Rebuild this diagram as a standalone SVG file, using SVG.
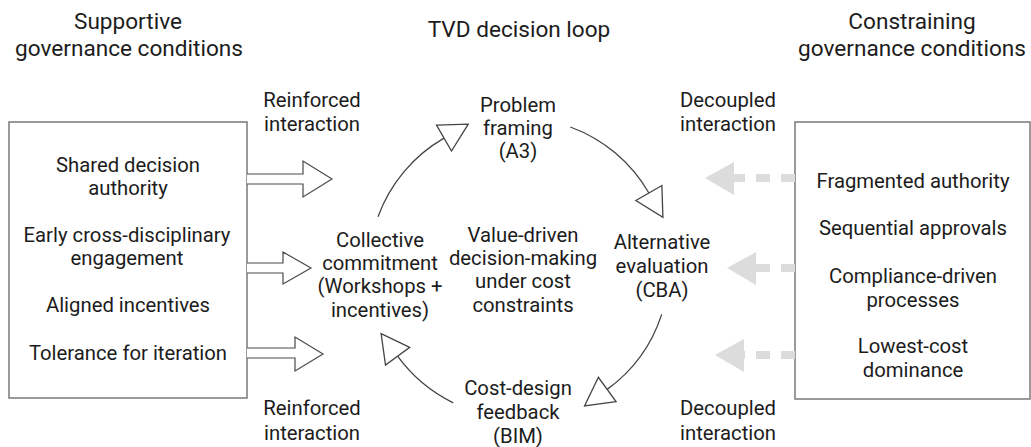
<svg xmlns="http://www.w3.org/2000/svg" width="1031" height="447" viewBox="0 0 1031 447">
  <style>
    text { font-family: Roboto, "Liberation Sans", sans-serif; fill: #1c1c1c; text-anchor: middle; }
    .title { font-size: 22.6px; }
    .lbl { font-size: 20.3px; }
    .box { fill: #ffffff; stroke: #7a7a7a; stroke-width: 1.5; }
    .block { fill: #ffffff; stroke: #4a4a4a; stroke-width: 1.2; stroke-linejoin: miter; }
    .loop { fill: none; stroke: #444444; stroke-width: 1.3; marker-end: url(#hollow); }
    .dash { stroke: #dcdcdc; stroke-width: 8; stroke-dasharray: 14 11; fill: none; }
    .dhead { fill: #dcdcdc; }
  </style>
  <defs>
    <marker id="hollow" viewBox="-2 -2 34 34" refX="0" refY="15" markerWidth="34" markerHeight="34" markerUnits="userSpaceOnUse" orient="auto">
      <path d="M0,0 L28,15 L0,30 Z" fill="#ffffff" stroke="#444444" stroke-width="1.3"/>
    </marker>
  </defs>
  <rect width="1031" height="447" fill="#ffffff"/>

  <!-- column headings -->
  <g id="heading-supportive">
    <text class="title" x="128" y="29">Supportive</text>
    <text class="title" x="129" y="56">governance conditions</text>
  </g>
  <g id="heading-loop">
    <text class="title" x="519" y="37">TVD decision loop</text>
  </g>
  <g id="heading-constraining">
    <text class="title" x="912" y="29">Constraining</text>
    <text class="title" x="912" y="56">governance conditions</text>
  </g>

  <!-- supportive conditions box -->
  <g id="supportive-box">
    <rect class="box" x="9" y="122" width="238" height="276"/>
    <text class="lbl" x="128" y="172">Shared decision</text>
    <text class="lbl" x="128" y="195">authority</text>
    <text class="lbl" x="127" y="242">Early cross-disciplinary</text>
    <text class="lbl" x="127" y="265">engagement</text>
    <text class="lbl" x="128" y="312">Aligned incentives</text>
    <text class="lbl" x="128" y="360">Tolerance for iteration</text>
  </g>

  <!-- constraining conditions box -->
  <g id="constraining-box">
    <rect class="box" x="795" y="122" width="235" height="277"/>
    <text class="lbl" x="913" y="188">Fragmented authority</text>
    <text class="lbl" x="913" y="235">Sequential approvals</text>
    <text class="lbl" x="913" y="283">Compliance-driven</text>
    <text class="lbl" x="913" y="307">processes</text>
    <text class="lbl" x="913" y="353">Lowest-cost</text>
    <text class="lbl" x="913" y="377">dominance</text>
  </g>

  <!-- loop stages -->
  <g id="problem-framing">
    <text class="lbl" x="518" y="112">Problem</text>
    <text class="lbl" x="518" y="135">framing</text>
    <text class="lbl" x="518" y="158">(A3)</text>
  </g>
  <g id="alternative-evaluation">
    <text class="lbl" x="662" y="249">Alternative</text>
    <text class="lbl" x="662" y="273">evaluation</text>
    <text class="lbl" x="662" y="297">(CBA)</text>
  </g>
  <g id="cost-design-feedback">
    <text class="lbl" x="518" y="395">Cost-design</text>
    <text class="lbl" x="518" y="419">feedback</text>
    <text class="lbl" x="518" y="443">(BIM)</text>
  </g>
  <g id="collective-commitment">
    <text class="lbl" x="380" y="247">Collective</text>
    <text class="lbl" x="380" y="270">commitment</text>
    <text class="lbl" x="380" y="293">(Workshops +</text>
    <text class="lbl" x="380" y="317">incentives)</text>
  </g>
  <g id="loop-core">
    <text class="lbl" x="523" y="242">Value-driven</text>
    <text class="lbl" x="523" y="265">decision-making</text>
    <text class="lbl" x="523" y="288">under cost</text>
    <text class="lbl" x="523" y="312">constraints</text>
  </g>

  <!-- interaction labels -->
  <g id="label-reinforced-top">
    <text class="lbl" x="312" y="107">Reinforced</text>
    <text class="lbl" x="312" y="131">interaction</text>
  </g>
  <g id="label-reinforced-bottom">
    <text class="lbl" x="312" y="415">Reinforced</text>
    <text class="lbl" x="312" y="440">interaction</text>
  </g>
  <g id="label-decoupled-top">
    <text class="lbl" x="728" y="107">Decoupled</text>
    <text class="lbl" x="728" y="131">interaction</text>
  </g>
  <g id="label-decoupled-bottom">
    <text class="lbl" x="728" y="415">Decoupled</text>
    <text class="lbl" x="728" y="440">interaction</text>
  </g>

  <g id="connectors">
    <!-- reinforced interaction: hollow block arrows -->
    <path class="block" d="M247,174 L303,174 L303,161 L332,179 L303,197 L303,184 L247,184"/>
    <path class="block" d="M247,263 L283,263 L283,252 L311,268 L283,284 L283,273 L247,273"/>
    <path class="block" d="M247,348 L295,348 L295,337 L323,354 L295,371 L295,358 L247,358"/>

    <!-- decision loop arcs (centre 519,268, r 150) -->
    <path class="loop" d="M378.0,216.7 A150,150 0 0 1 444,138.1"/>
    <path class="loop" d="M570.3,127.0 A150,150 0 0 1 648.9,193"/>
    <path class="loop" d="M661.7,314.4 A150,150 0 0 1 607.2,389.4"/>
    <path class="loop" d="M453.2,402.8 A150,150 0 0 1 397.6,356.2"/>

    <!-- decoupled interaction: faint dashed arrows -->
    <line class="dash" x1="795" y1="178" x2="732" y2="178"/>
    <polygon class="dhead" points="705,178 734,162 734,195"/>
    <line class="dash" x1="795" y1="268" x2="755" y2="268"/>
    <polygon class="dhead" points="727,268 756,252 756,285"/>
    <line class="dash" x1="795" y1="355" x2="743" y2="355"/>
    <polygon class="dhead" points="715,355 744,339 744,372"/>
  </g>
</svg>
